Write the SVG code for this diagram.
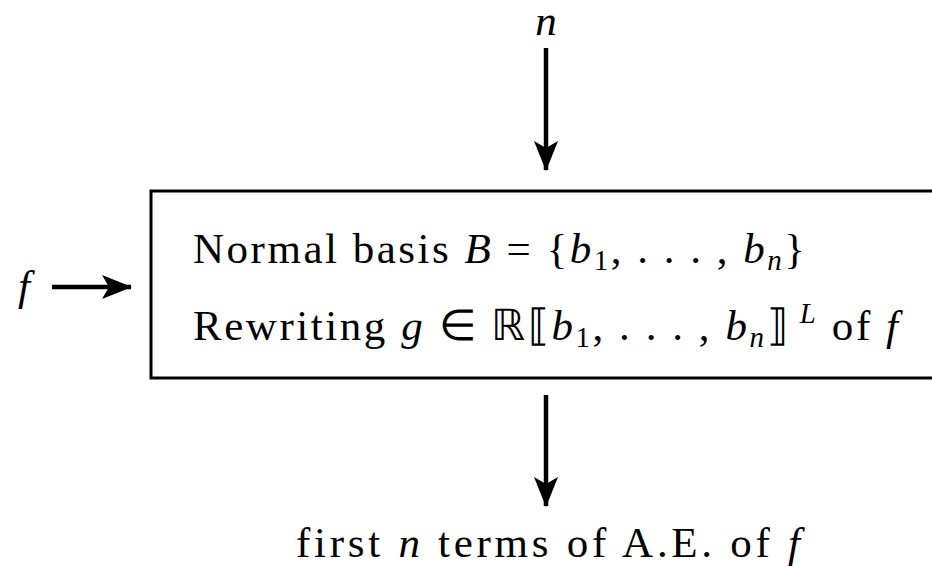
<svg xmlns="http://www.w3.org/2000/svg" width="932" height="567" viewBox="0 0 932 567">
<style>
text{font-family:'Liberation Serif','Times New Roman',serif;font-size:43px;fill:#000}
.i{font-style:italic}
.s{font-size:29px}
.c{stroke:#000;stroke-width:4.5;fill:none}
</style>
<defs>
<marker id="ah" viewBox="0 0 30 24" refX="29" refY="12" markerWidth="30" markerHeight="24" orient="auto" markerUnits="userSpaceOnUse">
<path d="M0,0 L30,12 L0,24 L7,12 Z" fill="#000"/>
</marker>
</defs>
<g id="connectors">
<line class="c" x1="546" y1="48" x2="546" y2="170" marker-end="url(#ah)"/>
<line class="c" x1="52" y1="287" x2="131" y2="287" marker-end="url(#ah)"/>
<line class="c" x1="546" y1="395" x2="546" y2="506" marker-end="url(#ah)"/>
</g>
<g id="input-n"><text class="i" x="546" y="35" text-anchor="middle">n</text></g>
<g id="input-f"><text class="i" x="24" y="300" text-anchor="middle">f</text></g>
<g id="box">
<rect x="151" y="191" width="800" height="187" fill="#fff" stroke="#000" stroke-width="3"/>
<text x="193" y="263" textLength="612" lengthAdjust="spacing">Normal basis <tspan class="i">B</tspan> = {<tspan class="i">b</tspan><tspan class="s" dy="7">1</tspan><tspan dy="-7">, . . . , </tspan><tspan class="i">b</tspan><tspan class="s i" dy="7">n</tspan><tspan dy="-7">}</tspan></text>
<text x="193" y="340" textLength="705" lengthAdjust="spacing">Rewriting <tspan class="i">g</tspan> ∈ ℝ⟦<tspan class="i">b</tspan><tspan class="s" dy="7">1</tspan><tspan dy="-7">, . . . , </tspan><tspan class="i">b</tspan><tspan class="s i" dy="7">n</tspan><tspan dy="-7">⟧</tspan><tspan class="s i" dy="-17"> L</tspan><tspan dy="17"> of </tspan><tspan class="i">f</tspan></text>
</g>
<g id="output"><text x="296" y="557" textLength="504" lengthAdjust="spacing">first <tspan class="i">n</tspan> terms of A.E. of <tspan class="i">f</tspan></text></g>
</svg>
